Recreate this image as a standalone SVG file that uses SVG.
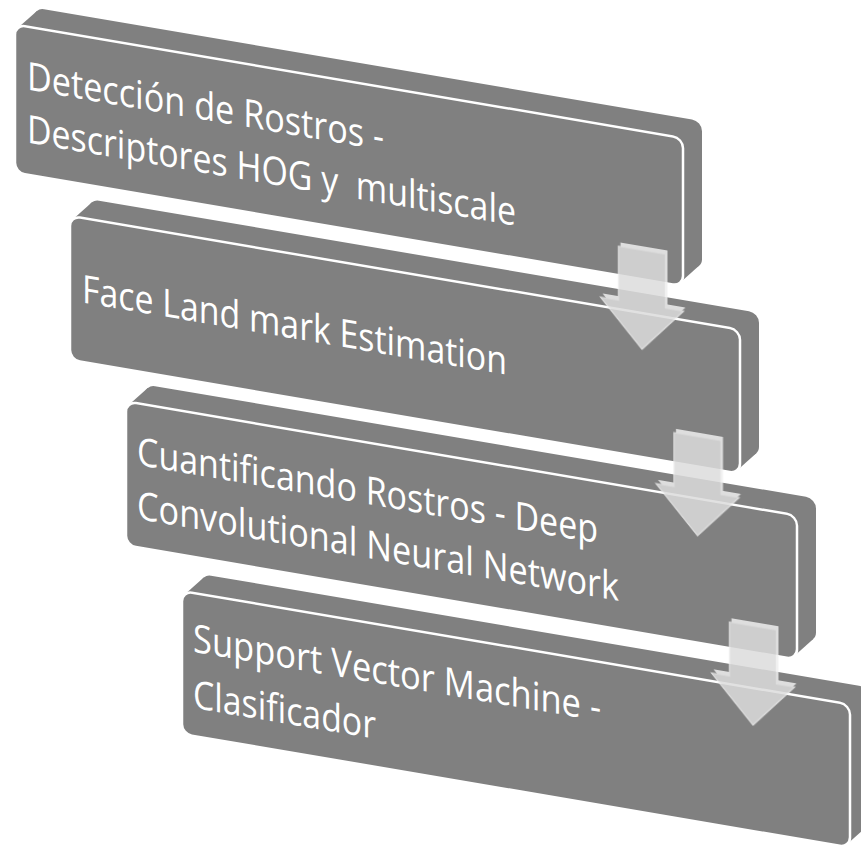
<svg xmlns="http://www.w3.org/2000/svg" width="861" height="848" viewBox="0 0 861 848">
<style>
.side{fill:#808080}
.face{fill:#808080;stroke:#ffffff;stroke-width:2.5}
.lbl{fill:#ffffff;font-family:"Open Sans","Liberation Sans",sans-serif;font-size:39px}
.ab{fill:#efefef}
.af{fill:#dcdcdc;stroke:#eeeeee;stroke-width:1.2}
</style>
<defs>
<polygon id="arrow" points="-23.5,0 23.5,0 23.5,54 41.5,54 0,99 -41.5,54 -23.5,54"/>
</defs>
<rect width="861" height="848" fill="#ffffff"/>
<g id="node1" transform="matrix(1,0.17,0,1,0,0)">
<rect class="side" x="34" y="1.8" width="668" height="148" rx="10"/>
<polygon class="side" points="17.7,25.1 36.7,4.9 699.3,146.7 680.3,166.9"/>
<rect class="face" x="15" y="22" width="668" height="148" rx="10"/>
<text class="lbl" x="27" y="85" textLength="357" lengthAdjust="spacingAndGlyphs">Detección de Rostros -</text>
<text class="lbl" x="27" y="138" textLength="489" lengthAdjust="spacingAndGlyphs" xml:space="preserve">Descriptores HOG y  multiscale</text>
</g>
<g id="node2" transform="matrix(1,0.17,0,1,0,0)">
<rect class="side" x="89" y="183.8" width="670" height="144" rx="10"/>
<polygon class="side" points="72.7,207.1 91.7,186.9 756.3,324.7 737.3,344.9"/>
<rect class="face" x="70" y="204" width="670" height="144" rx="10"/>
<text class="lbl" x="82" y="288.5" textLength="425" lengthAdjust="spacingAndGlyphs">Face Land mark Estimation</text>
</g>
<g id="node3" transform="matrix(1,0.17,0,1,0,0)">
<rect class="side" x="145" y="359.8" width="671" height="144" rx="10"/>
<polygon class="side" points="128.7,383.1 147.7,362.9 813.3,500.7 794.3,520.9"/>
<rect class="face" x="126" y="380" width="671" height="144" rx="10"/>
<text class="lbl" x="137" y="441.5" textLength="461" lengthAdjust="spacingAndGlyphs">Cuantificando Rostros - Deep</text>
<text class="lbl" x="137" y="495.5" textLength="482" lengthAdjust="spacingAndGlyphs">Convolutional Neural Network</text>
</g>
<g id="node4" transform="matrix(1,0.17,0,1,0,0)">
<rect class="side" x="201" y="539.8" width="668" height="143" rx="10"/>
<polygon class="side" points="184.7,563.1 203.7,542.9 866.3,679.7 847.3,699.9"/>
<rect class="face" x="182" y="560" width="668" height="143" rx="10"/>
<text class="lbl" x="193" y="619" textLength="408" lengthAdjust="spacingAndGlyphs">Support Vector Machine -</text>
<text class="lbl" x="193" y="675" textLength="183" lengthAdjust="spacingAndGlyphs">Clasificador</text>
</g>
<g id="connectors" opacity="0.85">
<g id="arrow1" transform="matrix(1,0.17,0,1,0,0) translate(642,141)">
<use href="#arrow" class="ab" x="2" y="-4"/>
<use href="#arrow" class="af"/>
</g>
<g id="arrow2" transform="matrix(1,0.17,0,1,0,0) translate(697.5,318)">
<use href="#arrow" class="ab" x="2" y="-4"/>
<use href="#arrow" class="af"/>
</g>
<g id="arrow3" transform="matrix(1,0.17,0,1,0,0) translate(753,498)">
<use href="#arrow" class="ab" x="2" y="-4"/>
<use href="#arrow" class="af"/>
</g>
</g>
</svg>
